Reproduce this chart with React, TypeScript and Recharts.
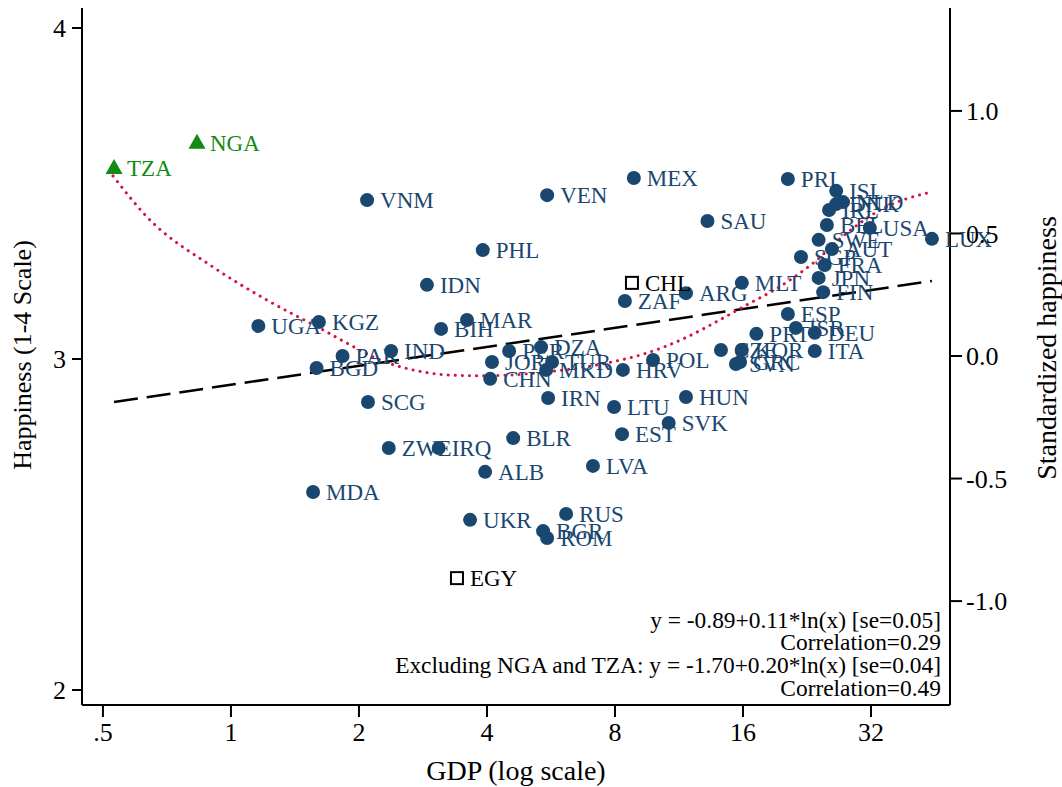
import React from "react";
import {
  ComposedChart,
  Scatter,
  Line,
  XAxis,
  YAxis,
} from "recharts";

const NAVY = "#1a476f";
const GREEN = "#138a13";
const RED = "#d4143f";
const serif = '"Liberation Serif", "Times New Roman", serif';

// countries drawn as navy dots
const codes = [
  "VNM", "IDN", "UGA", "KGZ", "PAK", "IND", "BGD", "BIH", "MAR", "SCG",
  "ZWE", "IRQ", "MDA", "PHL", "VEN", "MEX", "SAU", "ZAF", "ARG", "MLT",
  "PRI", "ISL", "IRL", "DNK", "NLD", "BEL", "USA", "LUX", "SWE", "SGP",
  "AUT", "FRA", "JPN", "FIN", "ESP", "PRT", "ISR", "DEU", "ITA", "CZE",
  "KOR", "SVN", "GRC", "POL", "HRV", "IRN", "LTU", "HUN", "SVK", "EST",
  "BLR", "LVA", "ALB", "CHN", "JOR", "PER", "DZA", "TUR", "MKD", "UKR",
  "RUS", "BGR", "ROM",
];
const gdp = [
  2.09, 2.89, 1.16, 1.61, 1.83, 2.38, 1.59, 3.12, 3.59, 2.1,
  2.35, 3.08, 1.56, 3.91, 5.54, 8.86, 13.2, 8.44, 11.75, 15.9,
  20.4, 26.5, 25.5, 26.5, 27.5, 25.2, 31.8, 44.5, 24.1, 21.9,
  25.9, 24.9, 24.1, 24.7, 20.4, 17.2, 21.3, 23.6, 23.6, 14.2,
  15.9, 15.4, 15.75, 9.83, 8.35, 5.57, 7.96, 11.75, 10.7, 8.31,
  4.61, 7.1, 3.96, 4.07, 4.11, 4.51, 5.36, 5.69, 5.51, 3.65,
  6.14, 5.42, 5.54,
];
const happiness = [
  3.48, 3.224, 3.1, 3.112, 3.009, 3.024, 2.973, 3.091, 3.118, 2.87,
  2.731, 2.731, 2.598, 3.329, 3.495, 3.547, 3.417, 3.175, 3.199, 3.23,
  3.544, 3.508, 3.45, 3.468, 3.474, 3.405, 3.396, 3.363, 3.36, 3.308,
  3.332, 3.284, 3.245, 3.202, 3.136, 3.076, 3.094, 3.079, 3.024, 3.027,
  3.027, 2.985, 2.991, 2.997, 2.967, 2.882, 2.855, 2.885, 2.807, 2.773,
  2.761, 2.677, 2.659, 2.94, 2.991, 3.024, 3.036, 2.991, 2.967, 2.514,
  2.532, 2.48, 2.459,
];

// outliers (green triangles)
const triCodes = ["TZA", "NGA"];
const triGdp = [0.531, 0.832];
const triHappiness = [3.577, 3.653];

// hollow squares
const sqCodes = ["CHL", "EGY"];
const sqGdp = [8.77, 3.4];
const sqHappiness = [3.23, 2.338];

// fitted line (standardized units), endpoints
const fitGdp = [0.531, 44.5];
const fitZ = [-0.188, 0.306];

// smoothed curve (happiness units)
const smoothGdp = [
  0.528, 0.635, 0.907, 1.215, 1.646, 1.874, 2.24, 2.68, 3.22, 3.85,
  5.54, 7.66, 9.51, 11.8, 14.1, 16.3, 19.5, 23.4, 28.1, 33.6, 44.5,
];
const smoothHappiness = [
  3.553, 3.429, 3.278, 3.178, 3.088, 3.048, 2.997, 2.967, 2.952, 2.949,
  2.961, 2.988, 3.018, 3.066, 3.118, 3.163, 3.218, 3.29, 3.381, 3.45, 3.505,
];

const xTicks = [0.5, 1, 2, 4, 8, 16, 32];
const hTicks = [2, 3, 4];
const zTicks = [-1, -0.5, 0, 0.5, 1];

const notes = [
  "y = -0.89+0.11*ln(x) [se=0.05]",
  "Correlation=0.29",
  "Excluding NGA and TZA: y = -1.70+0.20*ln(x) [se=0.04]",
  "Correlation=0.49",
];

const dots = codes.map((c, i) => ({ code: c, gdp: gdp[i], h: happiness[i] }));
const tris = triCodes.map((c, i) => ({ code: c, gdp: triGdp[i], h: triHappiness[i] }));
const squares = sqCodes.map((c, i) => ({ code: c, gdp: sqGdp[i], h: sqHappiness[i] }));
const fit = fitGdp.map((g, i) => ({ gdp: g, z: fitZ[i] }));
const smooth = smoothGdp.map((g, i) => ({ gdp: g, h: smoothHappiness[i] }));

const tickStyle = { fontSize: 26, fill: "#000", fontFamily: serif };

function DotShape(props: any) {
  const { cx, cy, payload } = props;
  return (
    <g>
      <circle cx={cx} cy={cy} r={7} fill={NAVY} />
      <text x={cx + 13} y={cy + 8} fontSize={23} fill={NAVY} fontFamily={serif}>
        {payload.code}
      </text>
    </g>
  );
}

function TriShape(props: any) {
  const { cx, cy, payload } = props;
  return (
    <g>
      <polygon
        points={`${cx},${cy - 9} ${cx - 8.5},${cy + 6} ${cx + 8.5},${cy + 6}`}
        fill={GREEN}
      />
      <text x={cx + 13} y={cy + 8} fontSize={23} fill={GREEN} fontFamily={serif}>
        {payload.code}
      </text>
    </g>
  );
}

function SquareShape(props: any) {
  const { cx, cy, payload } = props;
  return (
    <g>
      <rect x={cx - 6} y={cy - 6} width={12} height={12} fill="#fff" stroke="#000" strokeWidth={2} />
      <text x={cx + 13} y={cy + 8} fontSize={23} fill="#000" fontFamily={serif}>
        {payload.code}
      </text>
    </g>
  );
}

export default function App() {
  return (
    <div style={{ position: "absolute", left: 0, top: 0, width: 1062, height: 787, background: "#fff", fontFamily: serif }}>
      <ComposedChart width={1062} height={787} margin={{ top: 8, right: 0, bottom: 0, left: 0 }}>
        <XAxis
          type="number"
          dataKey="gdp"
          scale="log"
          domain={[0.4464, 49.08]}
          ticks={xTicks}
          tickFormatter={(v) => (v === 0.5 ? ".5" : String(v))}
          height={82}
          tick={tickStyle}
          tickSize={12}
          tickMargin={6}
          stroke="#000"
          strokeWidth={2}
        />
        <XAxis
          xAxisId="top"
          orientation="top"
          type="number"
          dataKey="gdp"
          scale="log"
          domain={[0.4464, 49.08]}
          height={0}
          tick={false}
          tickLine={false}
          stroke="#000"
          strokeWidth={2}
        />
        <YAxis
          yAxisId="h"
          type="number"
          dataKey="h"
          domain={[1.9547, 4.0604]}
          ticks={hTicks}
          width={82}
          tick={tickStyle}
          tickSize={10}
          tickMargin={6}
          stroke="#000"
          strokeWidth={2}
        />
        <YAxis
          yAxisId="z"
          orientation="right"
          type="number"
          dataKey="z"
          domain={[-1.424, 1.42]}
          ticks={zTicks}
          tickFormatter={(v) => v.toFixed(1)}
          width={112}
          tick={tickStyle}
          tickSize={12}
          tickMargin={4}
          stroke="#000"
          strokeWidth={2}
        />
        <Scatter yAxisId="h" data={dots} shape={DotShape} isAnimationActive={false} />
        <Scatter yAxisId="h" data={tris} shape={TriShape} isAnimationActive={false} />
        <Scatter yAxisId="h" data={squares} shape={SquareShape} isAnimationActive={false} />
        <Line
          yAxisId="z"
          data={fit}
          dataKey="z"
          type="linear"
          stroke="#000"
          strokeWidth={2.5}
          strokeDasharray="24 9"
          dot={false}
          activeDot={false}
          isAnimationActive={false}
        />
        <Line
          yAxisId="h"
          data={smooth}
          dataKey="h"
          type="monotone"
          stroke={RED}
          strokeWidth={3}
          strokeDasharray="0.1 7"
          strokeLinecap="round"
          dot={false}
          activeDot={false}
          isAnimationActive={false}
        />
      </ComposedChart>
      <svg
        width={1062}
        height={787}
        style={{ position: "absolute", left: 0, top: 0, pointerEvents: "none" }}
      >
        {notes.map((t, i) => (
          <text
            key={t}
            x={941}
            y={627.5 + i * 22.7}
            textAnchor="end"
            fontSize={23.4}
            fontFamily={serif}
            fill="#000"
          >
            {t}
          </text>
        ))}
        <text
          x={516}
          y={780}
          textAnchor="middle"
          fontSize={28}
          fontFamily={serif}
          fill="#000"
        >
          GDP (log scale)
        </text>
        <text
          transform="translate(31,355) rotate(-90)"
          textAnchor="middle"
          fontSize={26}
          fontFamily={serif}
          fill="#000"
        >
          Happiness (1-4 Scale)
        </text>
        <text
          transform="translate(1056,348) rotate(-90)"
          textAnchor="middle"
          fontSize={28}
          fontFamily={serif}
          fill="#000"
        >
          Standardized happiness
        </text>
      </svg>
    </div>
  );
}
